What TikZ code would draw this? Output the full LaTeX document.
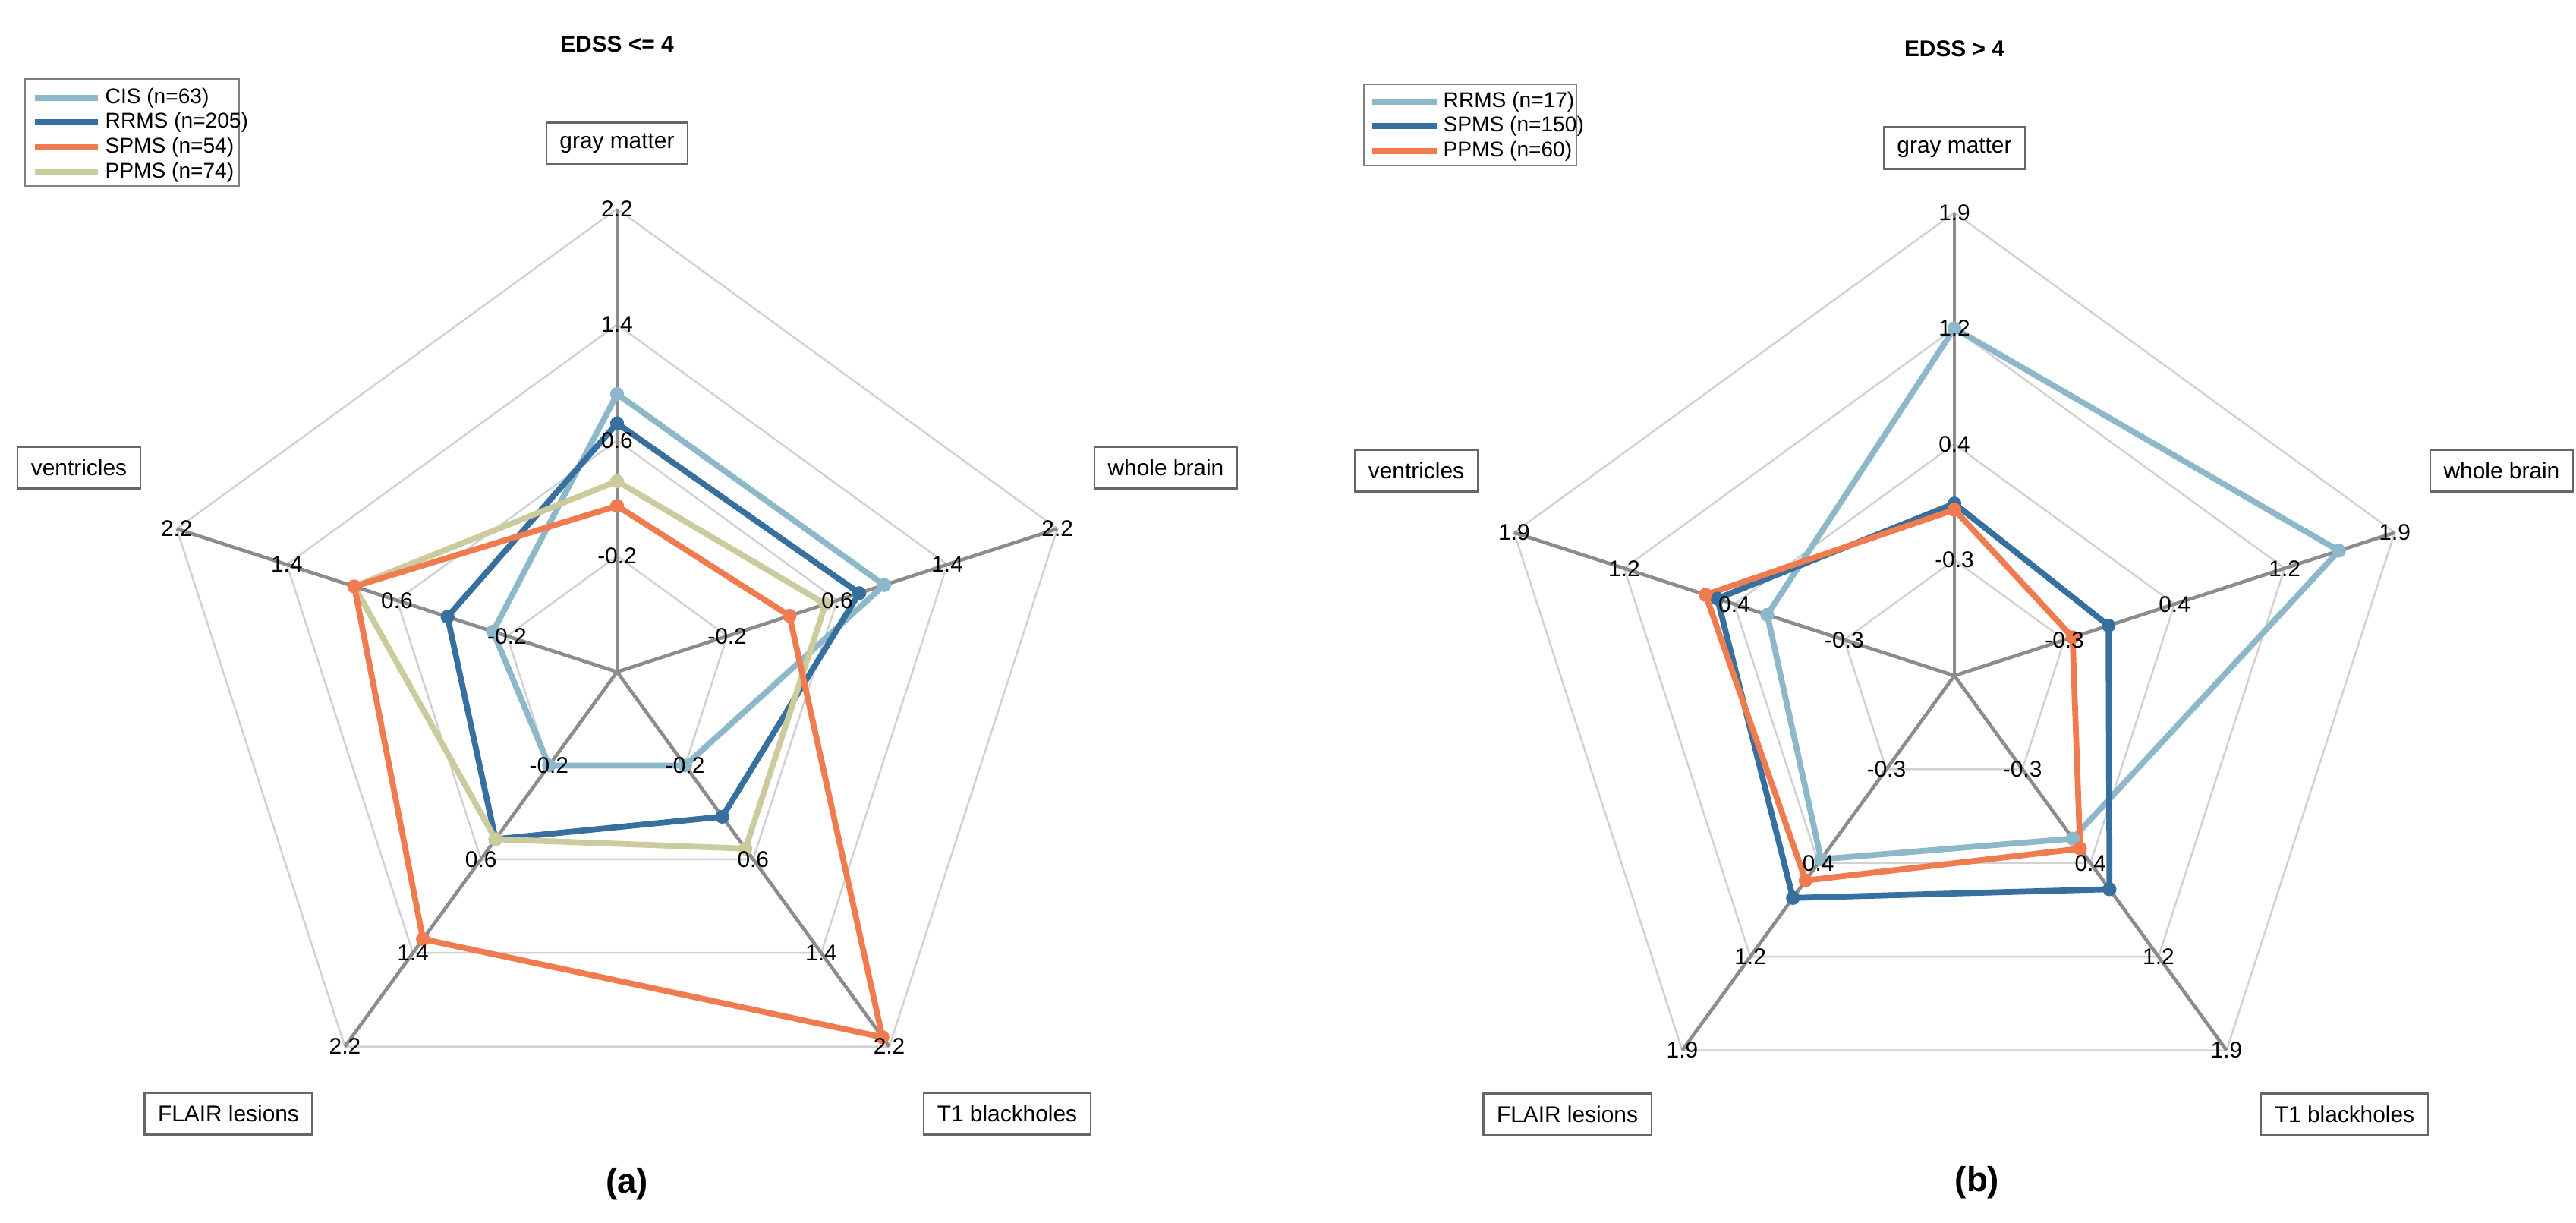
\documentclass[tikz,border=0pt]{standalone}
\usepackage{fontspec}
\setmainfont{Liberation Sans}
\begin{document}
\begin{tikzpicture}[
  grid/.style={draw=black!18, line width=0.7pt},
  axis/.style={draw=black!45, line width=1.3pt},
  tick/.style={font=\fontsize{8.5}{10}\selectfont, inner sep=0pt},
  lab/.style={draw=black!60, line width=0.6pt, fill=white, font=\fontsize{8.5}{10}\selectfont, inner xsep=5pt, minimum height=0.55cm},
  ttl/.style={font=\bfseries\fontsize{8.5}{10}\selectfont},
  sub/.style={font=\bfseries\fontsize{13}{15}\selectfont},
  ser/.style={line width=2.2pt, line join=round},
  cA/.style={ser, draw=lb}, cB/.style={ser, draw=db}, cC/.style={ser, draw=og}, cD/.style={ser, draw=ol},
  leg/.style={draw=black!50, line width=0.6pt},
  legt/.style={font=\fontsize{8}{9}\selectfont, anchor=west, inner sep=0pt}
]
\definecolor{lb}{HTML}{8DB8C9}
\definecolor{db}{HTML}{37709E}
\definecolor{og}{HTML}{EF7B4F}
\definecolor{ol}{HTML}{CBCB9E}
\useasboundingbox (0,0) rectangle (33.94,-16.10);
\fill[white] (0,0) rectangle (33.94,-16.10);

% ---------- left chart ----------
\begin{scope}[shift={(8.13,-8.85)}, scale=1.0167]
  \foreach \r in {1.5,3,4.5,6}
    \draw[grid] (90:\r) -- (18:\r) -- (-54:\r) -- (-126:\r) -- (162:\r) -- cycle;
  \foreach \a in {90,18,-54,-126,162}
    \draw[axis] (0,0) -- (\a:6);
  \draw[cA] (90:3.60) -- (18:3.64) -- (-54:1.50) -- (-126:1.50) -- (162:1.69) -- cycle;
  \draw[cB] (90:3.22) -- (18:3.30) -- (-54:2.32) -- (-126:2.68) -- (162:2.31) -- cycle;
  \draw[cD] (90:2.47) -- (18:2.84) -- (-54:2.83) -- (-126:2.68) -- (162:3.58) -- cycle;
  \draw[cC] (90:2.15) -- (18:2.35) -- (-54:5.85) -- (-126:4.28) -- (162:3.58) -- cycle;
  \foreach \a/\r in {90/3.60,18/3.64,-54/1.50,-126/1.50,162/1.69} \fill[lb] (\a:\r) circle (0.09);
  \foreach \a/\r in {90/3.22,18/3.30,-54/2.32,-126/2.68,162/2.31} \fill[db] (\a:\r) circle (0.09);
  \foreach \a/\r in {90/2.47,18/2.84,-54/2.83,-126/2.68,162/3.58} \fill[ol] (\a:\r) circle (0.09);
  \foreach \a/\r in {90/2.15,18/2.35,-54/5.85,-126/4.28,162/3.58} \fill[og] (\a:\r) circle (0.09);
  \foreach \a in {90,18,-54,-126,162}
    \foreach \r/\t in {1.5/-0.2,3/0.6,4.5/1.4,6/2.2}
      \node[tick] at (\a:\r) {\t};
\end{scope}
\node[lab] (gmL) at (8.13,-1.89) {gray matter};
\node[lab] (wbL) at (15.36,-6.16) {whole brain};
\node[lab] (t1L) at (13.27,-14.67) {T1 blackholes};
\node[lab] (flL) at (3.01,-14.67) {FLAIR lesions};
\node[lab] (veL) at (1.04,-6.16) {ventricles};
\node[ttl] (tA) at (8.13,-0.58) {EDSS <= 4};
\node[sub] (sA) at (8.26,-15.60) {(a)};
\draw[leg] (0.33,-1.04) rectangle (3.15,-2.45);
\foreach \y/\c/\t in {1.29/lb/CIS (n=63),1.61/db/RRMS (n=205),1.94/og/SPMS (n=54),2.27/ol/PPMS (n=74)}{
  \draw[\c, line width=2pt] (0.46,-\y) -- (1.29,-\y);
  \node[legt] at (1.38,-\y) {\t};
}

% ---------- right chart ----------
\begin{scope}[shift={(25.75,-8.90)}, scale=1.0167]
  \foreach \r in {1.5,3,4.5,6}
    \draw[grid] (90:\r) -- (18:\r) -- (-54:\r) -- (-126:\r) -- (162:\r) -- cycle;
  \foreach \a in {90,18,-54,-126,162}
    \draw[axis] (0,0) -- (\a:6);
  \draw[cA] (90:4.50) -- (18:5.24) -- (-54:2.61) -- (-126:2.94) -- (162:2.55) -- cycle;
  \draw[cB] (90:2.23) -- (18:2.10) -- (-54:3.42) -- (-126:3.56) -- (162:3.23) -- cycle;
  \draw[cC] (90:2.15) -- (18:1.61) -- (-54:2.77) -- (-126:3.28) -- (162:3.39) -- cycle;
  \foreach \a/\r in {90/4.50,18/5.24,-54/2.61,-126/2.94,162/2.55} \fill[lb] (\a:\r) circle (0.09);
  \foreach \a/\r in {90/2.23,18/2.10,-54/3.42,-126/3.56,162/3.23} \fill[db] (\a:\r) circle (0.09);
  \foreach \a/\r in {90/2.15,18/1.61,-54/2.77,-126/3.28,162/3.39} \fill[og] (\a:\r) circle (0.09);
  \foreach \a in {90,18,-54,-126,162}
    \foreach \r/\t in {1.5/-0.3,3/0.4,4.5/1.2,6/1.9}
      \node[tick] at (\a:\r) {\t};
\end{scope}
\node[lab] (gmR) at (25.75,-1.95) {gray matter};
\node[lab] (wbR) at (32.96,-6.20) {whole brain};
\node[lab] (t1R) at (30.89,-14.68) {T1 blackholes};
\node[lab] (flR) at (20.65,-14.68) {FLAIR lesions};
\node[lab] (veR) at (18.66,-6.20) {ventricles};
\node[ttl] (tB) at (25.75,-0.64) {EDSS > 4};
\node[sub] (sB) at (26.05,-15.58) {(b)};
\draw[leg] (17.97,-1.11) rectangle (20.77,-2.18);
\foreach \y/\c/\t in {1.34/lb/RRMS (n=17),1.66/db/SPMS (n=150),1.99/og/PPMS (n=60)}{
  \draw[\c, line width=2pt] (18.08,-\y) -- (18.93,-\y);
  \node[legt] at (19.01,-\y) {\t};
}
\end{tikzpicture}
\end{document}
